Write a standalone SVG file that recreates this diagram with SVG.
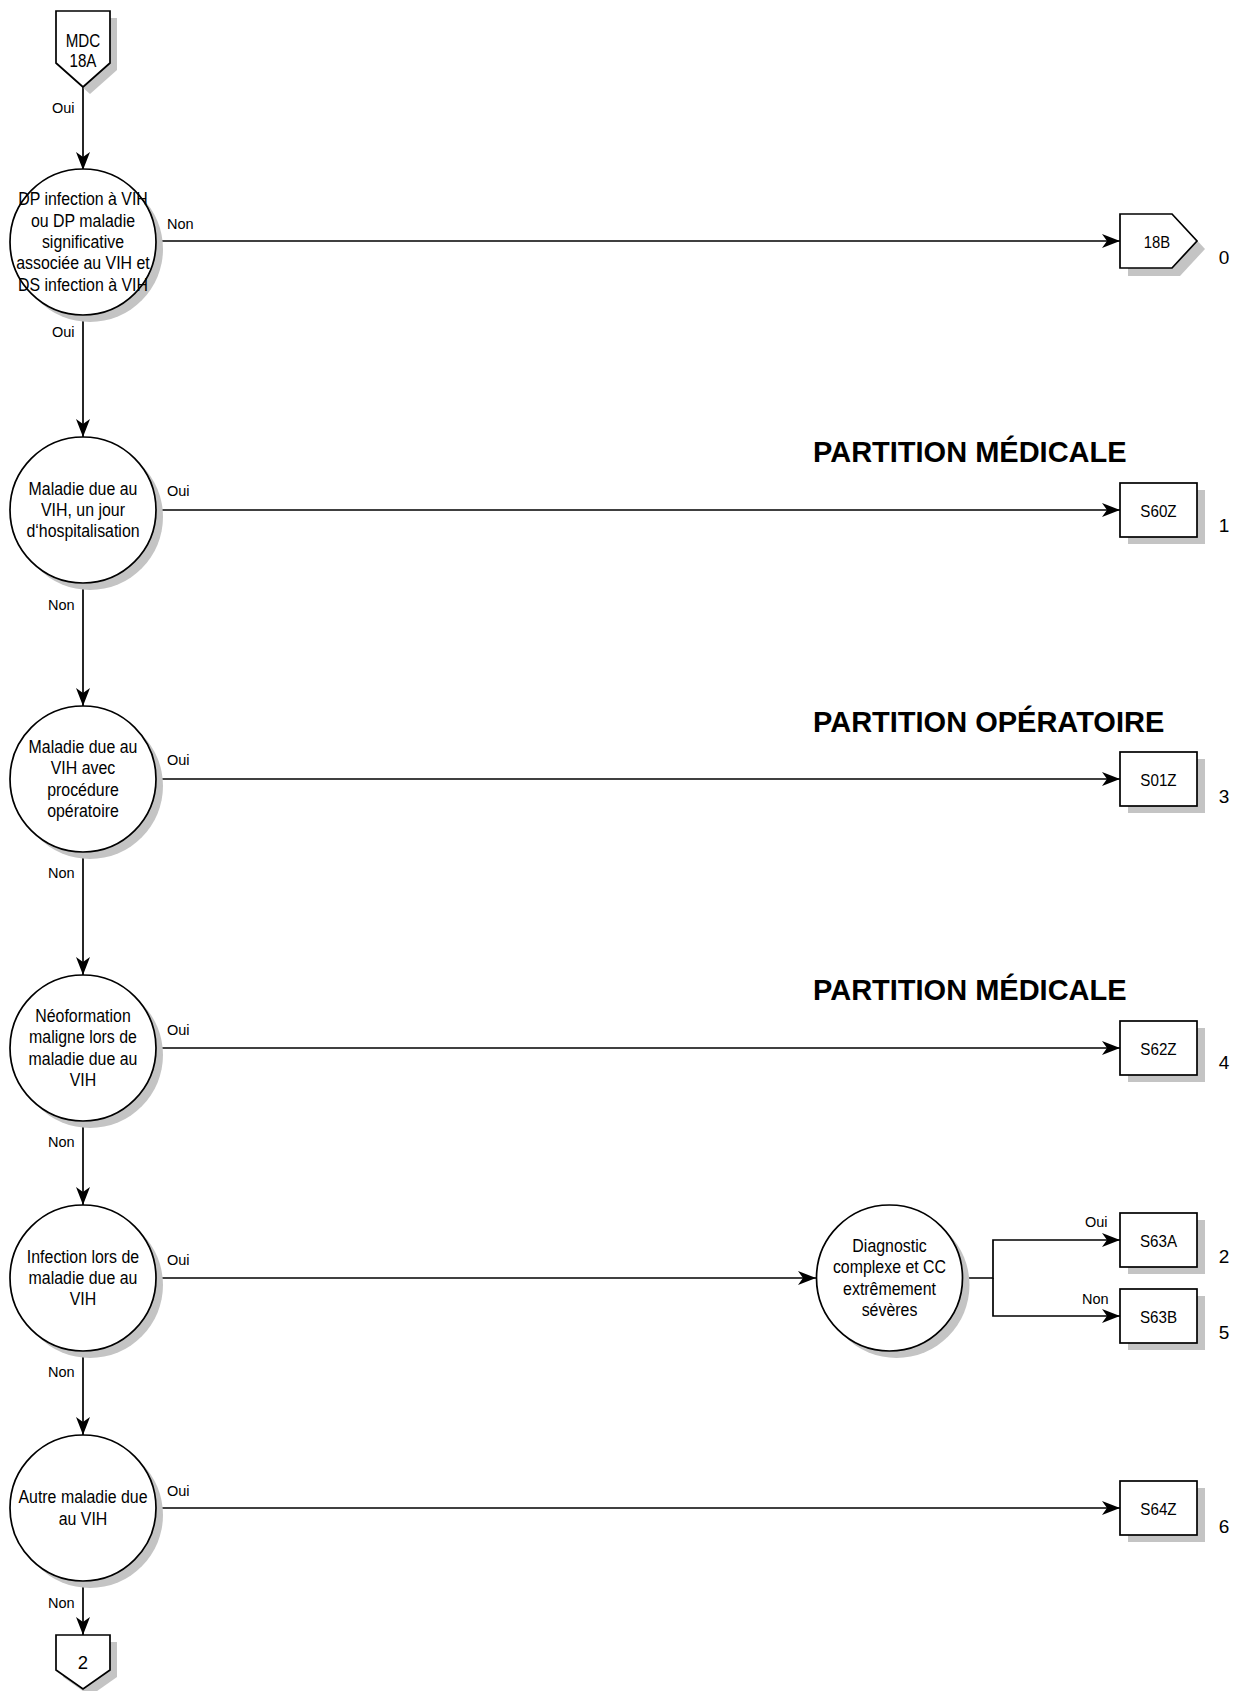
<svg xmlns="http://www.w3.org/2000/svg" width="1240" height="1691" viewBox="0 0 1240 1691">
<style>
.bg{fill:#ffffff}
.shape{fill:#ffffff;stroke:#000000;stroke-width:1.7}
.shadow{fill:#c4c4c4;stroke:none}
.edge{fill:none;stroke:#000000;stroke-width:1.7}
.nt{font-family:"Liberation Sans",Arial,sans-serif;font-size:18.5px;fill:#000;text-anchor:middle}
.bt{font-family:"Liberation Sans",Arial,sans-serif;font-size:16.5px;fill:#000;text-anchor:middle}
.el{font-family:"Liberation Sans",Arial,sans-serif;font-size:14.5px;fill:#000}
.num{font-family:"Liberation Sans",Arial,sans-serif;font-size:19px;fill:#000;text-anchor:middle}
.hdr{font-family:"Liberation Sans",Arial,sans-serif;font-size:29px;font-weight:bold;fill:#000}
</style>
<defs>
<marker id="arr" markerUnits="userSpaceOnUse" markerWidth="20" markerHeight="16" refX="18" refY="7" orient="auto">
<path d="M0,0 L18,7 L0,14 L5,7 z" fill="#000"/>
</marker>
</defs>
<rect class="bg" x="0" y="0" width="1240" height="1691"/>

<!-- headers -->
<text class="hdr" x="813" y="462">PARTITION MÉDICALE</text>
<text class="hdr" x="813" y="732">PARTITION OPÉRATOIRE</text>
<text class="hdr" x="813" y="1000">PARTITION MÉDICALE</text>

<!-- connectors -->
<g id="connectors">
<path class="edge" d="M83,87 V170" marker-end="url(#arr)"/>
<path class="edge" d="M156,241 H1120" marker-end="url(#arr)"/>
<path class="edge" d="M83,314 V437" marker-end="url(#arr)"/>
<path class="edge" d="M156,510 H1120" marker-end="url(#arr)"/>
<path class="edge" d="M83,583 V706" marker-end="url(#arr)"/>
<path class="edge" d="M156,779 H1120" marker-end="url(#arr)"/>
<path class="edge" d="M83,852 V975" marker-end="url(#arr)"/>
<path class="edge" d="M156,1048 H1120" marker-end="url(#arr)"/>
<path class="edge" d="M83,1121 V1205" marker-end="url(#arr)"/>
<path class="edge" d="M156,1278 H816" marker-end="url(#arr)"/>
<path class="edge" d="M962,1278 H993 V1240 H1120" marker-end="url(#arr)"/>
<path class="edge" d="M993,1278 V1316 H1120" marker-end="url(#arr)"/>
<path class="edge" d="M83,1351 V1435" marker-end="url(#arr)"/>
<path class="edge" d="M156,1508 H1120" marker-end="url(#arr)"/>
<path class="edge" d="M83,1580 V1635" marker-end="url(#arr)"/>

<text class="el" x="52" y="113">Oui</text>
<text class="el" x="167" y="229">Non</text>
<text class="el" x="52" y="337">Oui</text>
<text class="el" x="167" y="496">Oui</text>
<text class="el" x="48" y="610">Non</text>
<text class="el" x="167" y="765">Oui</text>
<text class="el" x="48" y="878">Non</text>
<text class="el" x="167" y="1035">Oui</text>
<text class="el" x="48" y="1147">Non</text>
<text class="el" x="167" y="1265">Oui</text>
<text class="el" x="48" y="1377">Non</text>
<text class="el" x="167" y="1496">Oui</text>
<text class="el" x="48" y="1608">Non</text>
<text class="el" x="1085" y="1227">Oui</text>
<text class="el" x="1082" y="1304">Non</text>
</g>

<!-- start node -->
<g id="mdc18a">
<path class="shadow" d="M63,18 H117 V70 L90,94 L63,70 z"/>
<path class="shape" d="M56,11 H110 V63 L83,87 L56,63 z"/>
<g transform="translate(83 0) scale(0.82 1)">
<text class="nt" x="0" y="47">MDC</text>
<text class="nt" x="0" y="67">18A</text>
</g>
</g>

<!-- decision 1 -->
<g id="d1">
<circle class="shadow" cx="90" cy="249" r="73"/>
<circle class="shape" cx="83" cy="242" r="73"/>
<g transform="translate(83 242) scale(0.86 1)">
<text class="nt" x="0" y="-37">DP infection à VIH</text>
<text class="nt" x="0" y="-15.5">ou DP maladie</text>
<text class="nt" x="0" y="6">significative</text>
<text class="nt" x="0" y="27.5">associée au VIH et</text>
<text class="nt" x="0" y="49">DS infection à VIH</text>
</g>
</g>

<g id="n18b">
<path class="shadow" d="M1128,222 H1180 L1205,249 L1180,276 H1128 z"/>
<path class="shape" d="M1120,214 H1172 L1197,241 L1172,268 H1120 z"/>
<g transform="translate(1157 0) scale(0.9 1)"><text class="bt" x="0" y="248">18B</text></g>
<text class="num" x="1224" y="264">0</text>
</g>

<!-- decision 2 -->
<g id="d2">
<circle class="shadow" cx="90" cy="517" r="73"/>
<circle class="shape" cx="83" cy="510" r="73"/>
<g transform="translate(83 510) scale(0.86 1)">
<text class="nt" x="0" y="-15.5">Maladie due au</text>
<text class="nt" x="0" y="6">VIH, un jour</text>
<text class="nt" x="0" y="27.5">d‘hospitalisation</text>
</g>
</g>
<g id="s60z">
<rect class="shadow" x="1128" y="490" width="77" height="54"/>
<rect class="shape" x="1120" y="483" width="77" height="54"/>
<g transform="translate(1158.5 0) scale(0.92 1)"><text class="bt" x="0" y="517">S60Z</text></g>
<text class="num" x="1224" y="532">1</text>
</g>

<!-- decision 3 -->
<g id="d3">
<circle class="shadow" cx="90" cy="786" r="73"/>
<circle class="shape" cx="83" cy="779" r="73"/>
<g transform="translate(83 779) scale(0.86 1)">
<text class="nt" x="0" y="-26.25">Maladie due au</text>
<text class="nt" x="0" y="-4.75">VIH avec</text>
<text class="nt" x="0" y="16.75">procédure</text>
<text class="nt" x="0" y="38.25">opératoire</text>
</g>
</g>
<g id="s01z">
<rect class="shadow" x="1128" y="759" width="77" height="54"/>
<rect class="shape" x="1120" y="752" width="77" height="54"/>
<g transform="translate(1158.5 0) scale(0.92 1)"><text class="bt" x="0" y="786">S01Z</text></g>
<text class="num" x="1224" y="803">3</text>
</g>

<!-- decision 4 -->
<g id="d4">
<circle class="shadow" cx="90" cy="1055" r="73"/>
<circle class="shape" cx="83" cy="1048" r="73"/>
<g transform="translate(83 1048) scale(0.86 1)">
<text class="nt" x="0" y="-26.25">Néoformation</text>
<text class="nt" x="0" y="-4.75">maligne lors de</text>
<text class="nt" x="0" y="16.75">maladie due au</text>
<text class="nt" x="0" y="38.25">VIH</text>
</g>
</g>
<g id="s62z">
<rect class="shadow" x="1128" y="1028" width="77" height="54"/>
<rect class="shape" x="1120" y="1021" width="77" height="54"/>
<g transform="translate(1158.5 0) scale(0.92 1)"><text class="bt" x="0" y="1055">S62Z</text></g>
<text class="num" x="1224" y="1069">4</text>
</g>

<!-- decision 5 -->
<g id="d5">
<circle class="shadow" cx="90" cy="1285" r="73"/>
<circle class="shape" cx="83" cy="1278" r="73"/>
<g transform="translate(83 1278) scale(0.86 1)">
<text class="nt" x="0" y="-15.5">Infection lors de</text>
<text class="nt" x="0" y="6">maladie due au</text>
<text class="nt" x="0" y="27.5">VIH</text>
</g>
</g>

<g id="d5b">
<circle class="shadow" cx="896.5" cy="1285" r="73"/>
<circle class="shape" cx="889.5" cy="1278" r="73"/>
<g transform="translate(889.5 1278) scale(0.86 1)">
<text class="nt" x="0" y="-26.25">Diagnostic</text>
<text class="nt" x="0" y="-4.75">complexe et CC</text>
<text class="nt" x="0" y="16.75">extrêmement</text>
<text class="nt" x="0" y="38.25">sévères</text>
</g>
</g>
<g id="s63a">
<rect class="shadow" x="1128" y="1220" width="77" height="54"/>
<rect class="shape" x="1120" y="1213" width="77" height="54"/>
<g transform="translate(1158.5 0) scale(0.92 1)"><text class="bt" x="0" y="1247">S63A</text></g>
<text class="num" x="1224" y="1263">2</text>
</g>
<g id="s63b">
<rect class="shadow" x="1128" y="1296" width="77" height="54"/>
<rect class="shape" x="1120" y="1289" width="77" height="54"/>
<g transform="translate(1158.5 0) scale(0.92 1)"><text class="bt" x="0" y="1323">S63B</text></g>
<text class="num" x="1224" y="1339">5</text>
</g>

<!-- decision 6 -->
<g id="d6">
<circle class="shadow" cx="90" cy="1515" r="73"/>
<circle class="shape" cx="83" cy="1508" r="73"/>
<g transform="translate(83 1508) scale(0.86 1)">
<text class="nt" x="0" y="-4.75">Autre maladie due</text>
<text class="nt" x="0" y="16.75">au VIH</text>
</g>
</g>
<g id="s64z">
<rect class="shadow" x="1128" y="1488" width="77" height="54"/>
<rect class="shape" x="1120" y="1481" width="77" height="54"/>
<g transform="translate(1158.5 0) scale(0.92 1)"><text class="bt" x="0" y="1515">S64Z</text></g>
<text class="num" x="1224" y="1533">6</text>
</g>

<!-- end connector -->
<g id="end2">
<path class="shadow" d="M63,1642 H117 V1677 L90,1696 L63,1677 z"/>
<path class="shape" d="M56,1635 H110 V1670 L83,1689 L56,1670 z"/>
<text class="nt" x="83" y="1669">2</text>
</g>
</svg>
